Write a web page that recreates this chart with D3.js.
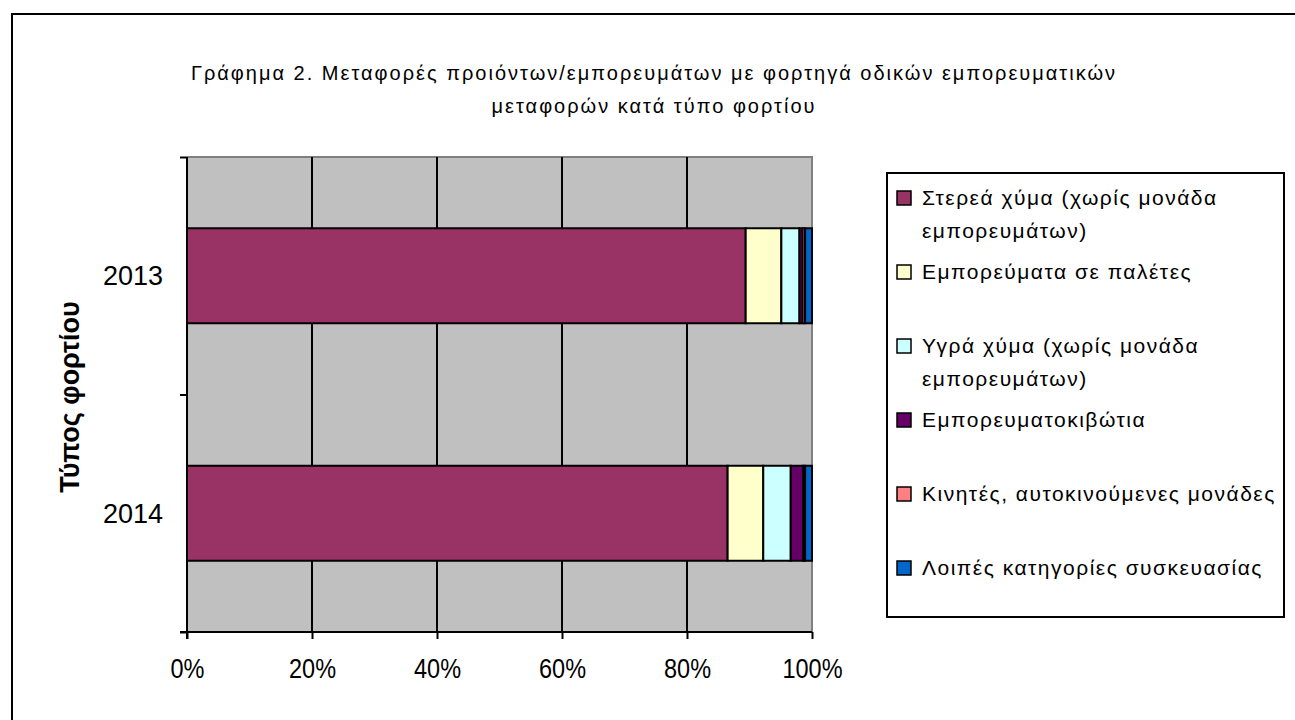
<!DOCTYPE html>
<html><head><meta charset="utf-8">
<script src="https://cdn.jsdelivr.net/npm/d3@7"></script>
<style>
body{margin:0;background:#fff;}
svg{display:block;}
text{font-family:"Liberation Sans",Arial,sans-serif;}
</style></head>
<body>
<svg id="c" width="1295" height="720"></svg>
<script>
const categories = ["2013", "2014"];
const seriesNames = [
  "Στερεά χύμα (χωρίς μονάδα εμπορευμάτων)",
  "Εμπορεύματα σε παλέτες",
  "Υγρά χύμα (χωρίς μονάδα εμπορευμάτων)",
  "Εμπορευματοκιβώτια",
  "Κινητές, αυτοκινούμενες μονάδες",
  "Λοιπές κατηγορίες συσκευασίας"
];
const legendLines = [
  ["Στερεά χύμα (χωρίς μονάδα", "εμπορευμάτων)"],
  ["Εμπορεύματα σε παλέτες"],
  ["Υγρά χύμα (χωρίς μονάδα", "εμπορευμάτων)"],
  ["Εμπορευματοκιβώτια"],
  ["Κινητές, αυτοκινούμενες μονάδες"],
  ["Λοιπές κατηγορίες συσκευασίας"]
];
const values2013 = [89.3, 5.7, 2.9, 0.5, 0.4, 1.1];
const values2014 = [86.5, 5.7, 4.4, 2.0, 0.3, 1.1];
const colors = ["#993366", "#FFFFCC", "#CCFFFF", "#660066", "#FF8080", "#0066CC"];
const xTicks = [0, 20, 40, 60, 80, 100];
const titleLines = ["Γράφημα 2. Μεταφορές προιόντων/εμπορευμάτων με φορτηγά οδικών εμπορευματικών", "μεταφορών κατά τύπο φορτίου"];
const yTitle = "Τύπος φορτίου";

const svg = d3.select("#c");
// outer chart border (only left/top visible)
svg.append("rect").attr("x",12).attr("y",14).attr("width",1300).attr("height",720)
  .attr("fill","#fff").attr("stroke","#000").attr("stroke-width",2);

const L=187, R=812, T=157, B=632;
const x = d3.scaleLinear().domain([0,100]).range([L,R]);
const y = d3.scaleBand().domain(categories).range([T,B]);
const barH = y.bandwidth()*0.4;

// plot background
svg.append("rect").attr("x",L).attr("y",T).attr("width",R-L).attr("height",B-T).attr("fill","#C0C0C0");
svg.append("path").attr("d",`M${L},${T}H${R}V${B}`).attr("fill","none").attr("stroke","#808080").attr("stroke-width",2);
// gridlines
svg.append("g").selectAll("line").data(xTicks.slice(1,-1)).join("line")
  .attr("x1",d=>x(d)).attr("x2",d=>x(d)).attr("y1",T).attr("y2",B)
  .attr("stroke","#000").attr("stroke-width",2);

// bars (100% stacked)
const data = [values2013, values2014];
const stacked = data.map((vals,i)=>{const tot=d3.sum(vals);let c=0;return vals.map((v,j)=>{const p=v/tot*100;const s={cat:categories[i],x0:c,x1:c+p,j};c+=p;return s;});});
svg.append("g").selectAll("rect").data(stacked.flat()).join("rect")
  .attr("x",d=>x(d.x0)).attr("width",d=>x(d.x1)-x(d.x0))
  .attr("y",d=>y(d.cat)+(y.bandwidth()-barH)/2).attr("height",barH)
  .attr("fill",d=>colors[d.j]).attr("stroke","#000").attr("stroke-width",2);

// axes
const xAxis = svg.append("g").attr("transform",`translate(0,${B})`)
  .call(d3.axisBottom(x).tickValues(xTicks).tickFormat(d=>d+"%").tickSize(7).tickPadding(33));
xAxis.select(".domain").attr("stroke-width",2).attr("d",`M${L-7},0H${R}`);
xAxis.selectAll(".tick line").attr("stroke-width",2);
xAxis.selectAll("text").attr("font-size",28).attr("fill","#000").attr("dy","0.2em")
  .attr("transform","scale(0.84,1)");

const yAxisScale = d3.scaleLinear().domain([0,2]).range([T,B]);
const yAxis = svg.append("g").attr("transform",`translate(${L},0)`)
  .call(d3.axisLeft(yAxisScale).tickValues([0,1,2]).tickFormat("").tickSize(7));
yAxis.select(".domain").attr("stroke-width",2).attr("d",`M0,${T}V${B+7}`);
yAxis.selectAll(".tick line").attr("stroke-width",2);
svg.append("g").selectAll("text").data(categories).join("text")
  .attr("x",163).attr("y",d=>y(d)+y.bandwidth()/2).attr("dy","0.35em")
  .attr("text-anchor","end").attr("font-size",27).text(d=>d);

// y title
svg.append("text").attr("transform",`translate(79,397) rotate(-90)`)
  .attr("text-anchor","middle").attr("font-weight","bold").attr("font-size",27).text(yTitle);

// title
svg.append("g").selectAll("text").data(titleLines).join("text")
  .attr("x",654).attr("y",(d,i)=>80+i*33).attr("text-anchor","middle")
  .attr("font-size",20).attr("letter-spacing",2).text(d=>d);

// legend
svg.append("rect").attr("x",887).attr("y",173).attr("width",397).attr("height",444)
  .attr("fill","#fff").attr("stroke","#000").attr("stroke-width",2);
const lg = svg.append("g").selectAll("g").data(legendLines).join("g")
  .attr("transform",(d,i)=>`translate(897,${191+i*74})`);
lg.append("rect").attr("width",14).attr("height",14).attr("fill",(d,i)=>colors[i]).attr("stroke","#000").attr("stroke-width",1.5);
lg.each(function(d){
  d3.select(this).selectAll("text").data(d).join("text")
    .attr("x",25).attr("y",(t,k)=>14+k*33).attr("font-size",21).attr("letter-spacing",1.5).text(t=>t);
});
</script>
</body></html>
